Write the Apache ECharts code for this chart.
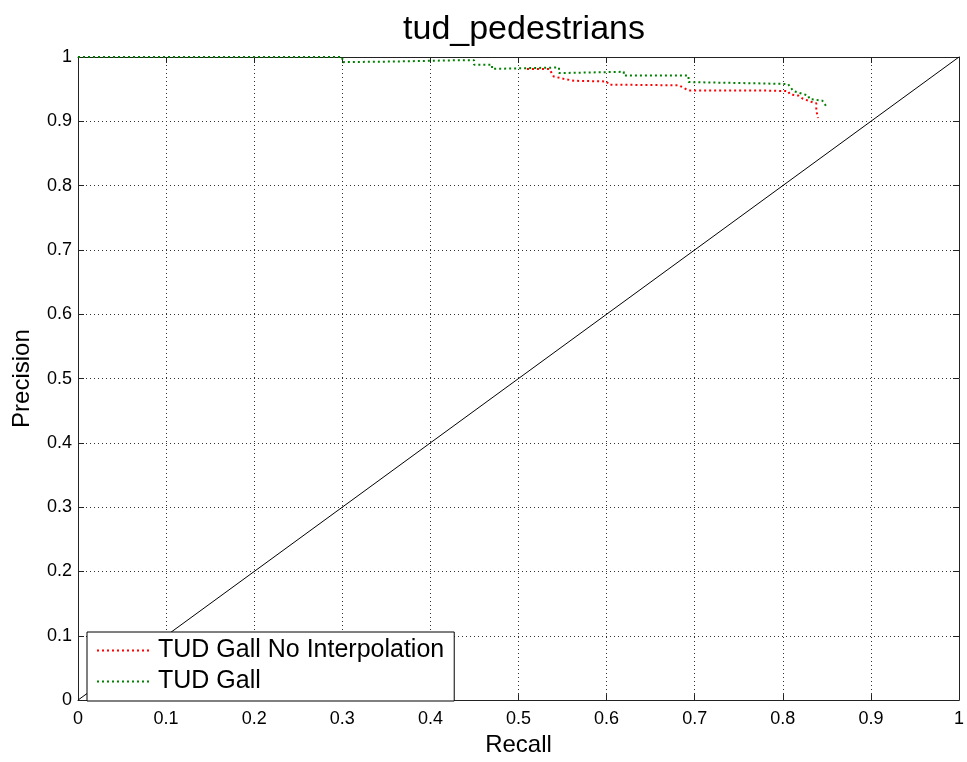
<!DOCTYPE html>
<html>
<head>
<meta charset="utf-8">
<script src="https://cdn.jsdelivr.net/npm/echarts@6/dist/echarts.min.js"></script>
<style>
  html, body { margin: 0; padding: 0; background: #fff; }
  #chart { width: 967px; height: 762px; }
</style>
</head>
<body>
<div id="chart"></div>
<script>
// PR curves
const recallNoInterp = [0.5096, 0.535, 0.540, 0.5515, 0.563, 0.600, 0.6025, 0.682, 0.693, 0.772, 0.806, 0.808, 0.8177, 0.823, 0.835, 0.838, 0.838, 0.840];
const precisionNoInterp = [0.9815, 0.9815, 0.9697, 0.966, 0.963, 0.962, 0.957, 0.956, 0.948, 0.948, 0.947, 0.942, 0.940, 0.935, 0.929, 0.928, 0.917, 0.905];

const recallGall = [0, 0.300, 0.300, 0.36, 0.433, 0.4496, 0.4496, 0.470, 0.470, 0.540, 0.546, 0.546, 0.6195, 0.6195, 0.693, 0.693, 0.772, 0.806, 0.812, 0.829, 0.830, 0.845, 0.849];
const precisionGall = [1, 1, 0.992, 0.993, 0.995, 0.995, 0.988, 0.988, 0.9815, 0.9835, 0.9835, 0.975, 0.977, 0.9712, 0.9712, 0.961, 0.959, 0.958, 0.947, 0.940, 0.935, 0.932, 0.924];

const diagX = [0, 1];
const diagY = [0, 1];

const seriesNames = ['TUD Gall No Interpolation', 'TUD Gall'];

const zip = (xs, ys) => xs.map((x, i) => [x, ys[i]]);

const chart = echarts.init(document.getElementById('chart'));
const font = 'Liberation Sans, Arial, Helvetica, sans-serif';
const axisColor = '#222';
const fmt = v => String(+v.toFixed(1));

const baseAxis = {
  type: 'value', min: 0, max: 1, interval: 0.1,
  axisLine: { show: true, onZero: false, lineStyle: { color: axisColor, width: 1 } },
  axisTick: { show: true, inside: true, length: 6, lineStyle: { color: axisColor } }
};

chart.setOption({
  animation: false,
  backgroundColor: '#fff',
  title: {
    text: 'tud_pedestrians',
    left: 519, top: 8, textAlign: 'center',
    textStyle: { fontFamily: font, fontSize: 34, fontWeight: 'normal', color: '#000' }
  },
  grid: { left: 78, right: 6, top: 57, bottom: 55 },
  legend: {
    data: seriesNames,
    orient: 'vertical',
    left: 87, top: 632,
    padding: [6, 10, 7, 9],
    itemGap: 6,
    itemWidth: 52, itemHeight: 14,
    borderColor: '#000', borderWidth: 1,
    backgroundColor: '#fff',
    itemStyle: { opacity: 0 },
    textStyle: { fontFamily: font, fontSize: 25, color: '#000', padding: [0, 0, 0, 4] }
  },
  xAxis: [
    Object.assign({}, baseAxis, {
      position: 'bottom',
      name: 'Recall', nameLocation: 'middle', nameGap: 30,
      nameTextStyle: { fontFamily: font, fontSize: 24, color: '#000' },
      axisLabel: { margin: 10, fontFamily: font, fontSize: 18, color: '#000', formatter: fmt },
      splitLine: { show: true, lineStyle: { color: '#333', type: [1, 3], width: 1 } }
    }),
    Object.assign({}, baseAxis, {
      position: 'top',
      axisLabel: { show: false },
      splitLine: { show: false }
    })
  ],
  yAxis: [
    Object.assign({}, baseAxis, {
      position: 'left',
      name: 'Precision', nameLocation: 'middle', nameGap: 44,
      nameTextStyle: { fontFamily: font, fontSize: 24, color: '#000' },
      axisLabel: { margin: 6, fontFamily: font, fontSize: 18, color: '#000', formatter: fmt },
      splitLine: { show: true, lineStyle: { color: '#333', type: [1, 3], width: 1 } }
    }),
    Object.assign({}, baseAxis, {
      position: 'right',
      axisLabel: { show: false },
      splitLine: { show: false }
    })
  ],
  series: [
    {
      name: 'diagonal',
      type: 'line',
      data: zip(diagX, diagY),
      symbol: 'none',
      silent: true,
      lineStyle: { color: '#000', width: 1 },
      z: 1
    },
    {
      name: seriesNames[0],
      type: 'line',
      data: zip(recallNoInterp, precisionNoInterp),
      symbol: 'none',
      color: '#ff0000',
      lineStyle: { color: '#ff0000', width: 2, type: [2, 3] },
      z: 3
    },
    {
      name: seriesNames[1],
      type: 'line',
      data: zip(recallGall, precisionGall),
      symbol: 'none',
      color: '#008000',
      lineStyle: { color: '#008000', width: 2, type: [2, 3] },
      z: 2
    }
  ]
});
</script>
</body>
</html>
